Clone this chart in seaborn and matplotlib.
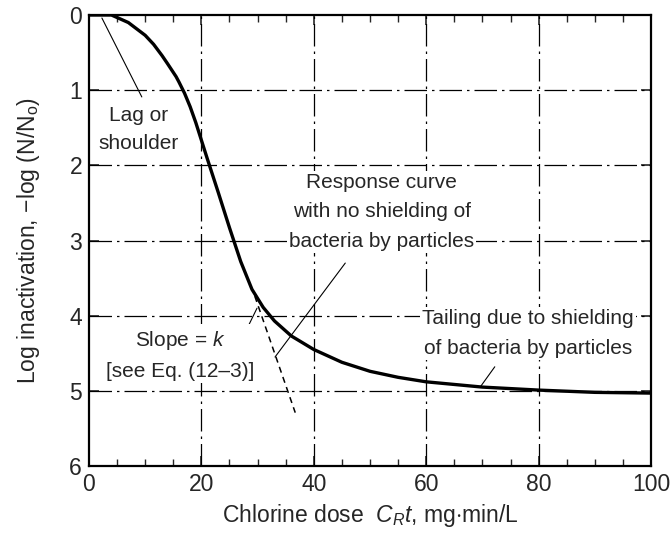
import matplotlib
matplotlib.use("Agg")
import matplotlib.pyplot as plt
import numpy as np
import pandas as pd
import seaborn as sns

# response curve
dose = [0, 4, 7, 10, 11.5, 13, 14, 15.5, 16, 17, 18, 19, 21, 23, 25, 27, 29,
        31, 33, 36, 40, 45, 50, 55, 60, 70, 80, 90, 100]
log_inact = [0, 0, 0.1, 0.27, 0.39, 0.54, 0.65, 0.82, 0.89, 1.04, 1.22, 1.43,
             1.9, 2.36, 2.83, 3.28, 3.65, 3.89, 4.07, 4.27, 4.45, 4.62, 4.74,
             4.82, 4.88, 4.95, 4.99, 5.02, 5.03]

# extrapolated slope (no shielding)
slope_x = [29.5, 36.7]
slope_y = [3.74, 5.29]

sns.set_style("ticks")
plt.rcParams['font.family'] = ['Liberation Sans', 'DejaVu Sans']
plt.rcParams['mathtext.fontset'] = 'custom'
plt.rcParams['mathtext.rm'] = 'Liberation Sans'
plt.rcParams['mathtext.it'] = 'Liberation Sans:italic'

fig = plt.figure(figsize=(6.72, 5.38), dpi=100)
ax = fig.add_axes([0.1324, 0.1338, 0.8364, 0.8383])

grid_style = dict(color="black", lw=0.9, ls=(0, (18, 4, 2, 4)), zorder=1)
for gy in [1, 2, 3, 4, 5]:
    ax.axhline(gy, **grid_style)
for gx in [20, 40, 60, 80]:
    ax.axvline(gx, **grid_style)

df = pd.DataFrame({"dose": dose, "inact": log_inact})
sns.lineplot(data=df, x="dose", y="inact", color="black", lw=2.4, ax=ax, zorder=3)
ax.plot(slope_x, slope_y, color="black", lw=1.1, ls=(0, (4, 3)), zorder=3)

ax.set_xlim(0, 100)
ax.set_ylim(6, 0)
ax.set_xticks([0, 20, 40, 60, 80, 100])
ax.set_yticks([0, 1, 2, 3, 4, 5, 6])
ax.set_xticks(np.arange(0, 101, 5), minor=True)
ax.tick_params(axis="both", which="major", labelsize=16.5, direction="in",
               length=7, width=1.2, top=True, right=True, pad=5)
ax.tick_params(axis="both", which="minor", direction="in", length=5,
               width=1.0, top=True, right=True)
for sp in ax.spines.values():
    sp.set_linewidth(1.6)
    sp.set_color("black")

ax.set_xlabel("Chlorine dose  $C_R t$, mg$\\cdot$min/L", fontsize=16.5, labelpad=4)
ax.set_ylabel("Log inactivation, $-$log (N/N$_\\mathrm{o}$)", fontsize=16.5, labelpad=20)

box = dict(facecolor="white", edgecolor="none", pad=1.5)
fs = 15
ax.text(8.9, 1.52, "Lag or\nshoulder", ha="center", va="center", fontsize=fs,
        linespacing=1.6, bbox=box, zorder=4)
ax.plot([2.3, 9.4], [0.04, 1.09], color="black", lw=0.8, zorder=3)

ax.text(52.1, 2.62, "Response curve\nwith no shielding of\nbacteria by particles",
        ha="center", va="center", fontsize=fs, linespacing=1.7, bbox=box, zorder=4)
ax.plot([33.1, 45.6], [4.55, 3.3], color="black", lw=0.8, zorder=3)

ax.text(16.2, 4.52, "Slope = $k$\n[see Eq. (12\u20133)]", ha="center", va="center",
        fontsize=fs, linespacing=1.7, bbox=box, zorder=4)
ax.plot([26.3, 29.9], [4.45, 3.9], color="black", lw=0.8, zorder=3)

ax.text(78.1, 4.24, "Tailing due to shielding\nof bacteria by particles",
        ha="center", va="center", fontsize=fs, linespacing=1.7, bbox=box, zorder=4)
ax.plot([72.2, 69.6], [4.68, 4.95], color="black", lw=0.8, zorder=3)

fig.savefig("out.png", dpi=100)
